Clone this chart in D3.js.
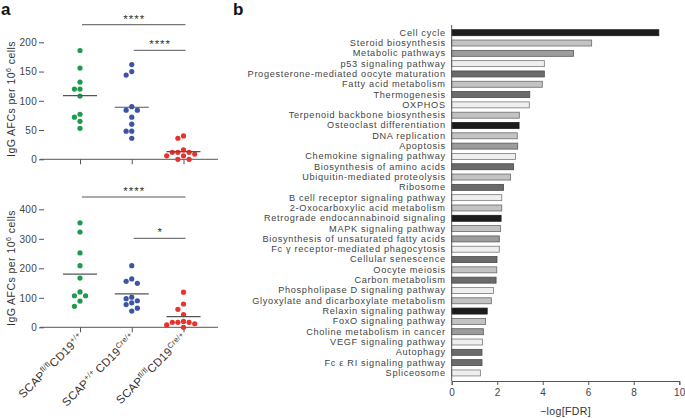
<!DOCTYPE html>
<html>
<head>
<meta charset="utf-8">
<script src="https://cdn.jsdelivr.net/npm/d3@7"></script>
<style>
  body { margin: 0; background: #fff; }
  svg { display: block; font-family: "Liberation Sans", Arial, sans-serif; }
  .tick text { fill: #444; }
</style>
</head>
<body>
<svg id="fig" width="685" height="418"></svg>
<script>
// ---- panel a data ----
var groupSup1 = ["fl/fl", "+/+", "fl/fl"];
var groupSup2 = ["+/+", "Cre/+", "Cre/+"];
var dotColors = ["#1f9a4c", "#3b55a6", "#e8322b"];

var topGreen = [186, 156, 132, 120, 120, 108, 77, 72, 65, 53];
var topBlue  = [162, 150, 144, 90, 84, 84, 72, 60, 48, 48, 36];
var topRed   = [40, 36, 16, 12, 12, 12, 9, 6, 6, 0, 0];
var topMeans = [109, 89, 13];
var topTicks = [0, 50, 100, 150, 200];

var botGreen = [354, 323, 252, 209, 167, 120, 107, 107, 89, 71];
var botBlue  = [209, 164, 156, 149, 102, 97, 90, 83, 77, 65, 55];
var botRed   = [119, 79, 61, 43, 20, 17, 17, 17, 12, 8, 0];
var botMeans = [180, 113, 36];
var botTicks = [0, 100, 200, 300, 400];

// ---- panel b data ----
var pathways = [
  "Cell cycle", "Steroid biosynthesis", "Metabolic pathways", "p53 signaling pathway",
  "Progesterone-mediated oocyte maturation", "Fatty acid metabolism", "Thermogenesis",
  "OXPHOS", "Terpenoid backbone biosynthesis", "Osteoclast differentiation",
  "DNA replication", "Apoptosis", "Chemokine signaling pathway",
  "Biosynthesis of amino acids", "Ubiquitin-mediated proteolysis", "Ribosome",
  "B cell receptor signaling pathway", "2-Oxocarboxylic acid metabolism",
  "Retrograde endocannabinoid signaling", "MAPK signaling pathway",
  "Biosynthesis of unsaturated fatty acids", "Fc \u03b3 receptor-mediated phagocytosis",
  "Cellular senescence", "Oocyte meiosis", "Carbon metabolism",
  "Phospholipase D signaling pathway", "Glyoxylate and dicarboxylate metabolism",
  "Relaxin signaling pathway", "FoxO signaling pathway", "Choline metabolism in cancer",
  "VEGF signaling pathway", "Autophagy", "Fc \u03b5 RI signaling pathway", "Spliceosome"
];
var logFDR = [
  9.1, 6.15, 5.35, 4.07, 4.07, 3.98, 3.43, 3.41, 2.97, 2.96,
  2.88, 2.9, 2.8, 2.72, 2.59, 2.28, 2.2, 2.2, 2.17, 2.15,
  2.09, 2.09, 1.99, 1.98, 1.95, 1.84, 1.74, 1.56, 1.49, 1.39,
  1.35, 1.33, 1.33, 1.26
];
// shade class of each bar: 0 black, 1 dark, 2 mid, 3 light, 4 pale
var shadeClass = [
  0, 3, 2, 4, 1, 3, 1, 4, 3, 0,
  3, 2, 4, 1, 3, 1, 4, 3, 0, 3,
  2, 4, 1, 3, 1, 4, 3, 0, 3, 2,
  4, 1, 1, 4
];
var fdrTicks = [0, 2, 4, 6, 8, 10];

var svg = d3.select("#fig");
var axisGrey = "#555";

// panel letters
svg.append("text").attr("x", 1).attr("y", 15).attr("font-size", 17)
  .attr("font-weight", "bold").attr("fill", "#111").text("a");
svg.append("text").attr("x", 233).attr("y", 15).attr("font-size", 17)
  .attr("font-weight", "bold").attr("fill", "#111").text("b");

var x = d3.scalePoint().domain([0, 1, 2]).range([80, 183.5]);

// simple beeswarm: spread overlapping dots sideways
function swarm(vals, y, cx) {
  var placed = [], s = 5.6, d = 5.4;
  var order = vals.map(function(v, i) { return i; })
    .sort(function(a, b) { return vals[b] - vals[a]; });
  order.forEach(function(i) {
    var py = y(vals[i]);
    for (var k = 0; k < 20; k++) {
      var off = k === 0 ? 0 : (k % 2 ? -1 : 1) * Math.ceil(k / 2) * s;
      var ok = placed.every(function(p) {
        return Math.hypot(p.x - (cx + off), p.y - py) >= d;
      });
      if (ok) { placed.push({x: cx + off, y: py}); break; }
    }
  });
  return placed;
}

function dotPanel(opts) {
  var g = svg.append("g");
  var y = d3.scaleLinear().domain([opts.ticks[0], opts.ticks[opts.ticks.length - 1]])
    .range([opts.y0, opts.y1]);

  var ya = g.append("g").attr("transform", "translate(44,0)")
    .call(d3.axisLeft(y).tickValues(opts.ticks).tickSize(5).tickPadding(2));
  ya.select(".domain").remove();
  ya.selectAll("line").attr("stroke", axisGrey);
  ya.selectAll("text").attr("font-size", 10).attr("letter-spacing", 0.3);

  var xa = g.append("g").attr("transform", "translate(0," + opts.y0 + ")")
    .call(d3.axisBottom(x).tickSize(5).tickFormat(""));
  xa.select(".domain").attr("d", "M40,0H218").attr("stroke", axisGrey);
  xa.selectAll("line").attr("stroke", axisGrey);

  // axis title
  var t = g.append("text").attr("font-size", 10.5).attr("fill", "#333")
    .attr("text-anchor", "middle").attr("letter-spacing", 0.45)
    .attr("transform", "translate(15," + opts.titleY + ") rotate(-90)");
  t.append("tspan").text("IgG AFCs per 10");
  t.append("tspan").attr("dy", -4).attr("font-size", 7).text("6");
  t.append("tspan").attr("dy", 4).text(" cells");

  opts.series.forEach(function(vals, gi) {
    var pts = swarm(vals, y, x(gi));
    g.selectAll(null).data(pts).enter().append("circle")
      .attr("cx", function(p) { return p.x; })
      .attr("cy", function(p) { return p.y; })
      .attr("r", 2.6).attr("fill", dotColors[gi]);
    g.append("line")
      .attr("x1", x(gi) - 17).attr("x2", x(gi) + 17)
      .attr("y1", y(opts.means[gi])).attr("y2", y(opts.means[gi]))
      .attr("stroke", "#555").attr("stroke-width", 1.2);
  });

  // significance brackets
  opts.sig.forEach(function(s) {
    var x1 = x(s.from) + 2, x2 = x(s.to) + 2;
    g.append("line").attr("x1", x1).attr("x2", x2)
      .attr("y1", s.y).attr("y2", s.y).attr("stroke", axisGrey).attr("stroke-width", 1);
    g.append("text").attr("x", (x1 + x2) / 2 + 0.5).attr("y", s.y - 2)
      .attr("text-anchor", "middle").attr("font-size", 11.5).attr("letter-spacing", 1)
      .attr("fill", "#333").text(s.label);
  });
}

dotPanel({
  y0: 159.3, y1: 42.3, ticks: topTicks, titleY: 99,
  series: [topGreen, topBlue, topRed], means: topMeans,
  sig: [{from: 0, to: 2, y: 24.7, label: "****"}, {from: 1, to: 2, y: 50.3, label: "****"}]
});
dotPanel({
  y0: 327.3, y1: 209.3, ticks: botTicks, titleY: 268,
  series: [botGreen, botBlue, botRed], means: botMeans,
  sig: [{from: 0, to: 2, y: 197, label: "****"}, {from: 1, to: 2, y: 238.3, label: "*"}]
});

// rotated group labels
groupSup1.forEach(function(s1, i) {
  var t = svg.append("text").attr("font-size", 11.5).attr("fill", "#333")
    .attr("text-anchor", "end").attr("letter-spacing", 0.3)
    .attr("transform", "translate(" + (x(i) + 4) + ",338) rotate(-45)");
  t.append("tspan").text("SCAP");
  t.append("tspan").attr("dy", -4.5).attr("font-size", 7.5).text(s1);
  t.append("tspan").attr("dy", 4.5).text(i === 1 ? "\u2009CD19" : "CD19");
  t.append("tspan").attr("dy", -4.5).attr("font-size", 7.5).text(groupSup2[i]);
  t.append("tspan").attr("dy", 4.5).attr("font-size", 7.5).text("\u200b");
});

// ---- panel b ----
var shades = ["#1c1c1c", "#6b6b6b", "#9c9c9c", "#c3c3c3", "#efefef"];
var strokes = ["#1c1c1c", "#4a4a4a", "#5a5a5a", "#6a6a6a", "#7a7a7a"];

var bx = d3.scaleLinear().domain([0, 10]).range([451.7, 679.3]);
var by = d3.scaleBand().domain(pathways).range([27.55, 378.1])
  .paddingInner(0.42).paddingOuter(0.21);

var gb = svg.append("g");
gb.selectAll("rect").data(pathways).enter().append("rect")
  .attr("x", bx(0))
  .attr("y", function(d) { return by(d); })
  .attr("width", function(d, i) { return bx(logFDR[i]) - bx(0); })
  .attr("height", by.bandwidth())
  .attr("fill", function(d, i) { return shades[shadeClass[i]]; })
  .attr("stroke", function(d, i) { return strokes[shadeClass[i]]; })
  .attr("stroke-width", 0.8);

var yb = gb.append("g").attr("transform", "translate(" + bx(0) + ",0)")
  .call(d3.axisLeft(by).tickSize(0).tickPadding(6));
yb.select(".domain").remove();
yb.selectAll("text").attr("font-size", 9.2).attr("letter-spacing", 0.68)
  .attr("fill", "#333");
gb.append("line").attr("x1", bx(0)).attr("x2", bx(0)).attr("y1", 25).attr("y2", 381)
  .attr("stroke", axisGrey);

var xb = gb.append("g").attr("transform", "translate(0,381)")
  .call(d3.axisBottom(bx).tickValues(fdrTicks).tickSize(4).tickPadding(4));
xb.select(".domain").attr("stroke", axisGrey);
xb.selectAll("line").attr("stroke", axisGrey);
xb.selectAll("text").attr("font-size", 10).attr("letter-spacing", 0.3);

gb.append("text").attr("x", (bx(0) + bx(10)) / 2).attr("y", 415)
  .attr("text-anchor", "middle").attr("font-size", 10.5).attr("letter-spacing", 0.4)
  .attr("fill", "#333").text("\u2212log[FDR]");
</script>
</body>
</html>
